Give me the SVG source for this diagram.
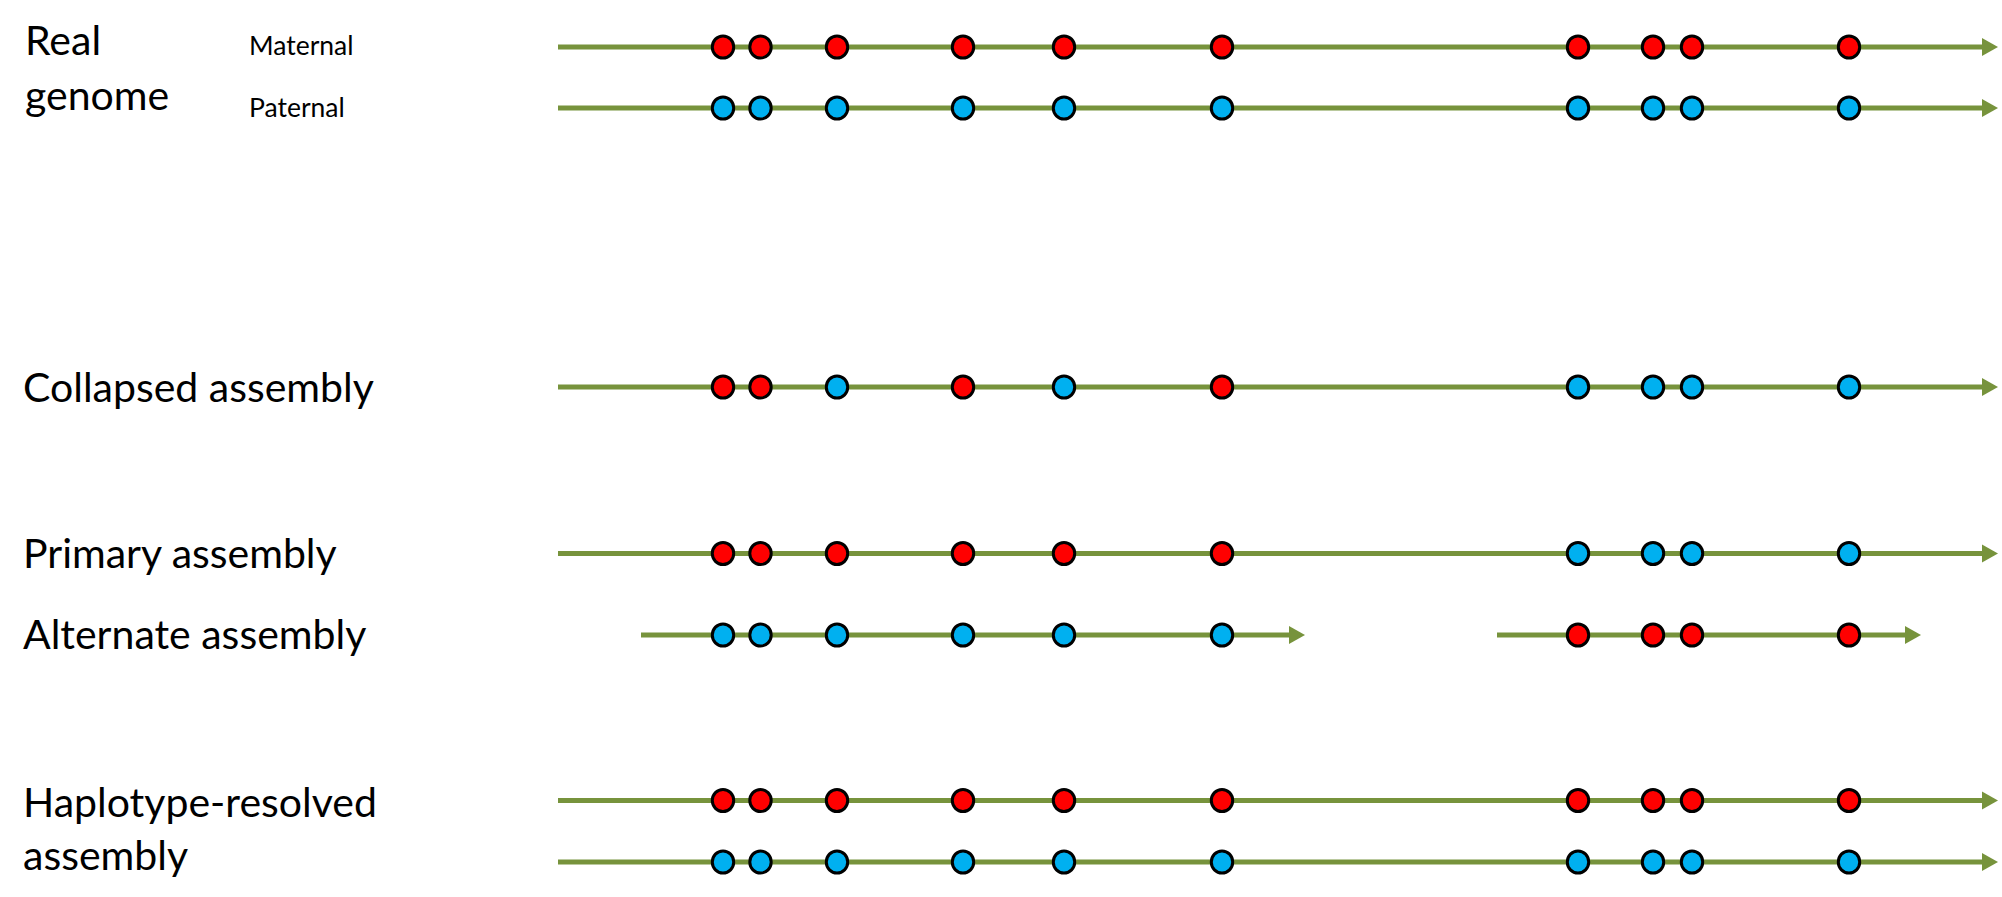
<svg xmlns="http://www.w3.org/2000/svg" width="2002" height="897" viewBox="0 0 2002 897">
<style>
.lbl{font-family:Lato,"Liberation Sans",sans-serif;font-size:41px;fill:#000}
.sub{font-family:Lato,"Liberation Sans",sans-serif;font-size:26.5px;fill:#000}
.track{stroke:#77933C;stroke-width:5;fill:none;marker-end:url(#arr)}
.r{fill:#FF0000;stroke:#000;stroke-width:3}
.b{fill:#00B0F0;stroke:#000;stroke-width:3}
</style>
<defs>
<marker id="arr" markerUnits="userSpaceOnUse" markerWidth="16" markerHeight="18" refX="0" refY="9" orient="auto" overflow="visible">
<path d="M0,0 L16,9 L0,18 Z" fill="#77933C"/>
</marker>
<ellipse id="dot" cx="0" cy="0" rx="10.7" ry="11.1"/>
</defs>
<rect width="2002" height="897" fill="#fff"/>
<g id="labels">
<text class="lbl" x="25" y="55">Real</text>
<text class="lbl" x="25" y="110">genome</text>
<text class="sub" x="249" y="55">Maternal</text>
<text class="sub" x="249" y="117">Paternal</text>
<text class="lbl" x="23" y="402">Collapsed assembly</text>
<text class="lbl" x="23" y="568">Primary assembly</text>
<text class="lbl" x="23" y="649">Alternate assembly</text>
<text class="lbl" x="23" y="817">Haplotype-resolved</text>
<text class="lbl" x="23" y="870">assembly</text>
</g>
<g id="connectors">
<line class="track" x1="558" y1="47" x2="1982" y2="47"/>
<line class="track" x1="558" y1="108" x2="1982" y2="108"/>
<line class="track" x1="558" y1="387" x2="1982" y2="387"/>
<line class="track" x1="558" y1="553.5" x2="1982" y2="553.5"/>
<line class="track" x1="641" y1="635" x2="1289" y2="635"/>
<line class="track" x1="1497" y1="635" x2="1905" y2="635"/>
<line class="track" x1="558" y1="800.5" x2="1982" y2="800.5"/>
<line class="track" x1="558" y1="862" x2="1982" y2="862"/>
</g>
<g id="maternal">
<use href="#dot" class="r" x="723" y="47"/><use href="#dot" class="r" x="760.5" y="47"/><use href="#dot" class="r" x="837" y="47"/><use href="#dot" class="r" x="963" y="47"/><use href="#dot" class="r" x="1064" y="47"/><use href="#dot" class="r" x="1222" y="47"/><use href="#dot" class="r" x="1578" y="47"/><use href="#dot" class="r" x="1653" y="47"/><use href="#dot" class="r" x="1692" y="47"/><use href="#dot" class="r" x="1849" y="47"/>
</g>
<g id="paternal">
<use href="#dot" class="b" x="723" y="108"/><use href="#dot" class="b" x="760.5" y="108"/><use href="#dot" class="b" x="837" y="108"/><use href="#dot" class="b" x="963" y="108"/><use href="#dot" class="b" x="1064" y="108"/><use href="#dot" class="b" x="1222" y="108"/><use href="#dot" class="b" x="1578" y="108"/><use href="#dot" class="b" x="1653" y="108"/><use href="#dot" class="b" x="1692" y="108"/><use href="#dot" class="b" x="1849" y="108"/>
</g>
<g id="collapsed">
<use href="#dot" class="r" x="723" y="387"/><use href="#dot" class="r" x="760.5" y="387"/><use href="#dot" class="b" x="837" y="387"/><use href="#dot" class="r" x="963" y="387"/><use href="#dot" class="b" x="1064" y="387"/><use href="#dot" class="r" x="1222" y="387"/><use href="#dot" class="b" x="1578" y="387"/><use href="#dot" class="b" x="1653" y="387"/><use href="#dot" class="b" x="1692" y="387"/><use href="#dot" class="b" x="1849" y="387"/>
</g>
<g id="primary">
<use href="#dot" class="r" x="723" y="553.5"/><use href="#dot" class="r" x="760.5" y="553.5"/><use href="#dot" class="r" x="837" y="553.5"/><use href="#dot" class="r" x="963" y="553.5"/><use href="#dot" class="r" x="1064" y="553.5"/><use href="#dot" class="r" x="1222" y="553.5"/><use href="#dot" class="b" x="1578" y="553.5"/><use href="#dot" class="b" x="1653" y="553.5"/><use href="#dot" class="b" x="1692" y="553.5"/><use href="#dot" class="b" x="1849" y="553.5"/>
</g>
<g id="alternate">
<use href="#dot" class="b" x="723" y="635"/><use href="#dot" class="b" x="760.5" y="635"/><use href="#dot" class="b" x="837" y="635"/><use href="#dot" class="b" x="963" y="635"/><use href="#dot" class="b" x="1064" y="635"/><use href="#dot" class="b" x="1222" y="635"/><use href="#dot" class="r" x="1578" y="635"/><use href="#dot" class="r" x="1653" y="635"/><use href="#dot" class="r" x="1692" y="635"/><use href="#dot" class="r" x="1849" y="635"/>
</g>
<g id="haplotype-maternal">
<use href="#dot" class="r" x="723" y="800.5"/><use href="#dot" class="r" x="760.5" y="800.5"/><use href="#dot" class="r" x="837" y="800.5"/><use href="#dot" class="r" x="963" y="800.5"/><use href="#dot" class="r" x="1064" y="800.5"/><use href="#dot" class="r" x="1222" y="800.5"/><use href="#dot" class="r" x="1578" y="800.5"/><use href="#dot" class="r" x="1653" y="800.5"/><use href="#dot" class="r" x="1692" y="800.5"/><use href="#dot" class="r" x="1849" y="800.5"/>
</g>
<g id="haplotype-paternal">
<use href="#dot" class="b" x="723" y="862"/><use href="#dot" class="b" x="760.5" y="862"/><use href="#dot" class="b" x="837" y="862"/><use href="#dot" class="b" x="963" y="862"/><use href="#dot" class="b" x="1064" y="862"/><use href="#dot" class="b" x="1222" y="862"/><use href="#dot" class="b" x="1578" y="862"/><use href="#dot" class="b" x="1653" y="862"/><use href="#dot" class="b" x="1692" y="862"/><use href="#dot" class="b" x="1849" y="862"/>
</g>
</svg>
